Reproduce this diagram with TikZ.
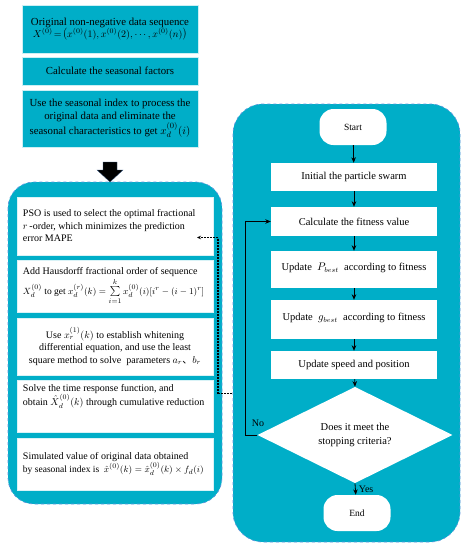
\documentclass[tikz,border=0pt]{standalone}
\usepackage{fontspec}
\setmainfont{Liberation Serif}
\newfontfamily\cjk{Noto Sans CJK SC}
\usetikzlibrary{shapes.geometric,arrows.meta}
\definecolor{tealA}{RGB}{0,174,200}
\definecolor{dashB}{RGB}{95,150,220}
\begin{document}
\begin{tikzpicture}[x=1pt,y=-1pt,
  topbox/.style={fill=tealA,draw=white!80!tealA,line width=0.4pt,inner sep=0pt,align=center,
     minimum width=176pt,font=\fontsize{10.8}{13}\selectfont},
  wbox/.style={fill=white,draw=white!85!tealA,line width=0.4pt,inner sep=0pt,
     minimum width=196pt,font=\fontsize{10}{12.5}\selectfont},
  rbox/.style={fill=white,inner sep=0pt,minimum width=166pt,font=\fontsize{10.5}{12}\selectfont},
  term/.style={fill=white,inner sep=0pt,rounded corners=14pt,minimum width=67pt,minimum height=36pt,font=\fontsize{9.5}{10}\selectfont},
  panel/.style={fill=tealA,draw=dashB,dashed,line width=0.7pt},
  arr/.style={-{Stealth[length=5.5pt,width=4.5pt]},line width=0.8pt},
  fb/.style={black,dash pattern=on 2pt off 1pt,line width=1.1pt},
  txt/.style={inner sep=0pt,font=\fontsize{10}{12}\selectfont}]
\useasboundingbox (0,0) rectangle (467,550);

% top boxes
\node[topbox,minimum height=48pt] (b1) at (110,29) {Original non-negative data sequence\\[-1pt]
  {\fontsize{9.8}{12}\selectfont$X^{(0)}\!=\!\left(x^{(0)}(1),x^{(0)}(2),\cdots,x^{(0)}(n)\right)$}};
\node[topbox,minimum height=28pt] (b2) at (110,71) {Calculate the seasonal factors};
\node[topbox,minimum height=57pt] (b3) at (110,118.5) {Use the seasonal index to process the\\
  original data and eliminate the\\ seasonal characteristics to get $x_d^{(0)}(i)$};

% big arrow
\fill[black,draw=dashB!60!black,line width=0.3pt] (103,162) -- (117,162) -- (117,170) -- (123,170) -- (110,182) -- (97,170) -- (103,170) -- cycle;

% left panel
\draw[panel,rounded corners=26pt] (8,182) rectangle (222,504);
\node[wbox,minimum height=58pt] (L1) at (115,226) {\parbox{184pt}{\raggedright
  PSO is used to select the optimal fractional\\ $r$\,-order, which minimizes the prediction\\ error MAPE}};
\node[wbox,minimum height=52pt] (L2) at (115,286) {\parbox{184pt}{\raggedright
  Add Hausdorff fractional order of sequence\\[1pt]
  {\fontsize{9.5}{12}\selectfont\mbox{$X_d^{(0)}$ to get $x_d^{(r)}(k)=\sum\limits_{i=1}^{k}x_d^{(0)}(i)[i^r-(i-1)^r]$}}}};
\node[wbox,minimum height=57pt,align=center] (L3) at (115,346.5) {Use $x_r^{(1)}(k)$ to establish whitening\\
  differential equation, and use the least\\ square method to solve \ parameters $a_r${\cjk 、}$b_r$};
\node[wbox,minimum height=52pt] (L4) at (115,406) {\parbox{184pt}{\raggedright
  Solve the time response function, and\\ \mbox{obtain $\hat{X}_d^{(0)}(k)$ through cumulative reduction}\\[10pt]\mbox{}}};
\node[wbox,minimum height=52pt] (L5) at (115,464) {\parbox{184pt}{\raggedright
  Simulated value of original data obtained\\[1pt]
  {\fontsize{9.5}{12}\selectfont\mbox{by seasonal index is \ $\hat{x}^{(0)}(k)=\hat{x}_d^{(0)}(k)\times f_d(i)$}}}};

% right panel
\draw[panel,rounded corners=30pt] (233,104) rectangle (460,542);
\node[term] (start) at (353,127) {Start};
\node[rbox,minimum height=28pt] (init) at (354,177) {Initial the particle swarm};
\node[rbox,minimum height=29pt] (calc) at (354,221.5) {Calculate the fitness value};
\node[rbox,minimum height=37pt] (updp) at (354,269.5) {\raisebox{5pt}{Update \ $P_{best}$ \ according to fitness}};
\node[rbox,minimum height=39pt] (updg) at (354,319.5) {\raisebox{5pt}{Update \ $g_{best}$ \ according to fitness}};
\node[rbox,minimum height=28pt] (speed) at (354,365) {Update speed and position};
\node[diamond,fill=white,inner sep=0pt,minimum width=195pt,minimum height=80pt,align=center,
  font=\fontsize{10.5}{13.5}\selectfont] (dec) at (355,435) {Does it meet the\\ stopping criteria?};
\node[term] (end) at (357,513) {End};

\draw[arr] (start) -- (init);
\draw[arr] (init) -- (calc);
\draw[arr] (calc) -- (updp);
\draw[arr] (updp) -- (updg);
\draw[arr] (updg) -- (speed);
\draw[arr] (speed) -- (dec.north);
\draw[arr] (dec.south) -- node[txt,right=3pt] {Yes} (end);
\coordinate (nocorner) at (245,435);
\draw[arr] (dec.west) -- (nocorner) |- (calc.west);
\node[txt] (nolab) at (258,423) {No};

% dotted feedback
\coordinate (dotS) at (232,393.5);
\coordinate (dotC) at (218,393.5);
\coordinate (dotU) at (218,237.5);
\coordinate (dotT) at (197,237.5);
\draw[fb] (dotS) -- (dotC);
\draw[fb] (dotC) -- (dotU);
\draw[fb,-{Stealth[length=4pt,width=3.5pt]}] (dotU) -- (dotT);
\end{tikzpicture}
\end{document}
